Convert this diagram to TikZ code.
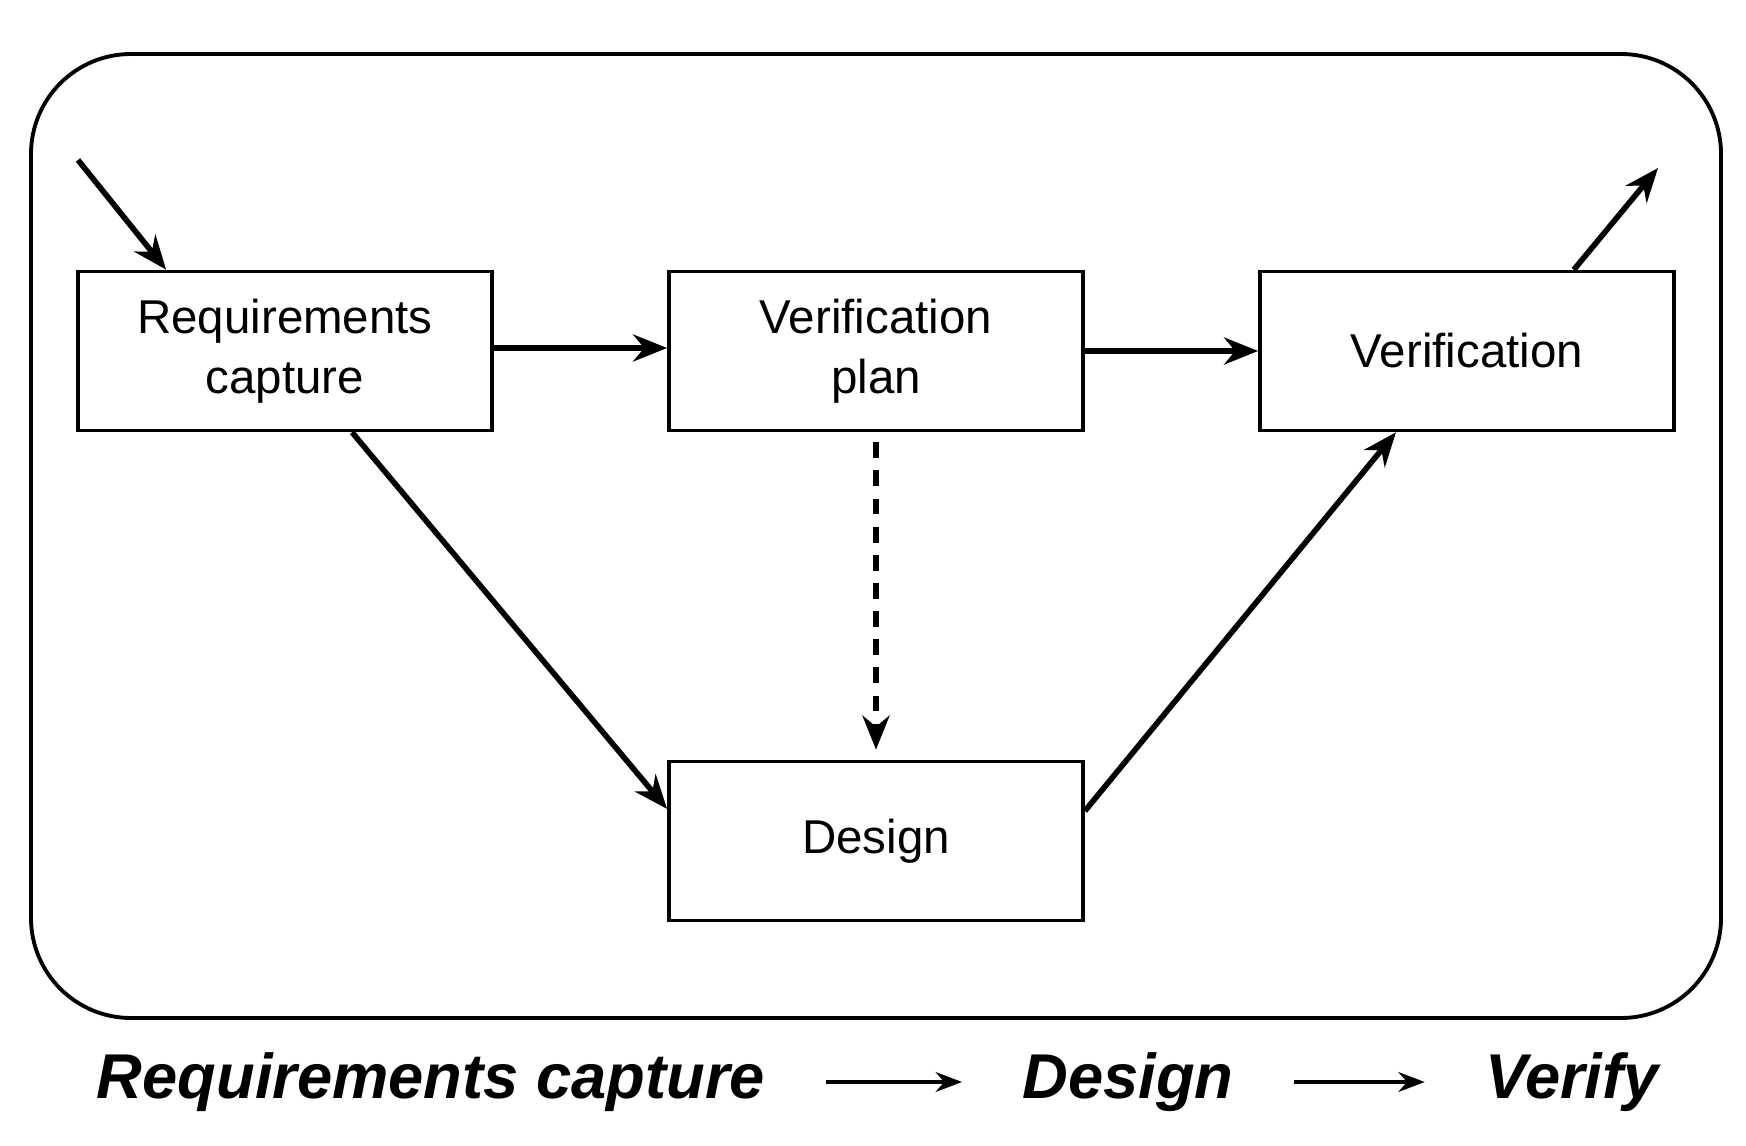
\documentclass[tikz,border=0pt]{standalone}
\usepackage{fontspec}
\setmainfont{Liberation Sans}
\usetikzlibrary{arrows.meta}

\begin{document}
\begin{tikzpicture}[x=0.01cm,y=-0.01cm,>={Stealth[length=3.4mm,width=2.7mm]}]
      \tikzset{stage/.style={draw, line width=1pt, minimum width=4.14cm, minimum height=1.59cm,
                             align=center, font=\fontsize{13.5}{17}\selectfont},
               flow/.style={->, line width=1.6pt},
               motto/.style={font=\bfseries\itshape\fontsize{18}{20}\selectfont}}
      \useasboundingbox (0,0) rectangle (1746,1146);

      \draw[line width=1.1pt, rounded corners=1cm] (31,54) rectangle (1721,1018);

      \node[stage] (req) at (285,351) {Requirements\\capture};
      \node[stage] (plan) at (876,351) {Verification\\plan};
      \node[stage] (verif) at (1467,351) {Verification};
      \node[stage] (design) at (876,841) {Design};

      \coordinate (start) at (78,160);
      \coordinate (finish) at (1658,168);

      \draw[flow] (start) -- ([xshift=0.9cm]req.north west);
      \draw[flow] ([yshift=0.03cm]req.east) -- ([yshift=0.03cm]plan.west);
      \draw[flow] (plan.east) -- (verif.west);
      \draw[flow] ([xshift=0.67cm]req.south) -- ([yshift=0.32cm]design.west);
      \draw[flow] ([yshift=0.3cm]design.east) -- ([xshift=-0.71cm]verif.south);
      \draw[flow] ([xshift=-1.02cm]verif.north east) -- (finish);
      \draw[flow, dash pattern=on 4.5pt off 3.5pt, shorten <=1mm, shorten >=1mm] (plan.south) -- (design.north);

      % stages in words
      \node[motto] (m1) at (431,1082) {Requirements capture};
      \node[motto] (m2) at (1128,1082) {Design};
      \node[motto] (m3) at (1572,1082) {Verify};

      \draw[-Stealth, line width=1pt, shorten <=0.48cm, shorten >=0.48cm] (m1.east) -- (m2.west);
      \draw[-Stealth, line width=1pt, shorten <=0.48cm, shorten >=0.48cm] (m2.east) -- (m3.west);
\end{tikzpicture}
\end{document}
